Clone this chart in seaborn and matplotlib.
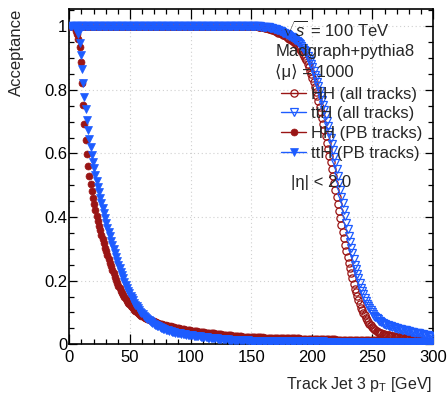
import numpy as np
import pandas as pd
import matplotlib
matplotlib.use("Agg")
import matplotlib.pyplot as plt
import seaborn as sns
from matplotlib.lines import Line2D
from matplotlib.ticker import MultipleLocator, FixedLocator

# ---------------- data (acceptance vs. track-jet-3 pT cut, 1 GeV bins) ----------------
pt_cut = np.arange(0.5, 300.0, 1.0)

hh_all = [
    1, 1, 1, 1, 1, 1, 1, 1, 1, 1,
    1, 1, 1, 1, 1, 1, 1, 1, 1, 1,
    1, 1, 1, 1, 1, 1, 1, 1, 1, 1,
    1, 1, 1, 1, 1, 1, 1, 1, 1, 1,
    1, 1, 1, 1, 1, 1, 1, 1, 1, 1,
    1, 1, 1, 1, 1, 1, 1, 1, 1, 1,
    1, 1, 1, 1, 1, 1, 1, 1, 1, 1,
    1, 1, 1, 1, 1, 1, 1, 1, 1, 1,
    1, 1, 1, 1, 1, 1, 1, 1, 1, 1,
    1, 1, 1, 1, 1, 1, 1, 1, 1, 1,
    1, 1, 1, 1, 1, 1, 1, 1, 1, 1,
    1, 1, 1, 1, 1, 1, 1, 1, 1, 1,
    1, 1, 1, 1, 1, 1, 1, 1, 1, 1,
    1, 1, 1, 1, 1, 1, 1, 1, 1, 1,
    1, 1, 1, 1, 1, 1, 1, 1, 1, 1,
    1.000, 1.000, 1.000, 0.999, 0.999, 0.999, 0.998, 0.998, 0.997, 0.997,
    0.996, 0.995, 0.994, 0.993, 0.992, 0.991, 0.990, 0.988, 0.987, 0.985,
    0.984, 0.982, 0.980, 0.979, 0.977, 0.975, 0.973, 0.971, 0.968, 0.966,
    0.964, 0.961, 0.958, 0.956, 0.953, 0.950, 0.946, 0.941, 0.937, 0.932,
    0.928, 0.921, 0.914, 0.907, 0.900, 0.893, 0.882, 0.871, 0.860, 0.849,
    0.838, 0.823, 0.809, 0.794, 0.780, 0.765, 0.747, 0.729, 0.711, 0.693,
    0.675, 0.654, 0.634, 0.613, 0.593, 0.572, 0.550, 0.528, 0.506, 0.484,
    0.462, 0.440, 0.418, 0.396, 0.374, 0.352, 0.333, 0.313, 0.294, 0.274,
    0.255, 0.239, 0.223, 0.207, 0.191, 0.175, 0.163, 0.151, 0.139, 0.127,
    0.115, 0.107, 0.099, 0.091, 0.083, 0.075, 0.070, 0.065, 0.060, 0.055,
    0.050, 0.047, 0.045, 0.042, 0.040, 0.037, 0.036, 0.034, 0.033, 0.031,
    0.030, 0.029, 0.028, 0.028, 0.027, 0.026, 0.025, 0.025, 0.024, 0.024,
    0.023, 0.023, 0.022, 0.022, 0.021, 0.021, 0.020, 0.020, 0.019, 0.019,
    0.018, 0.017, 0.017, 0.016, 0.016, 0.015, 0.014, 0.014, 0.013, 0.013,
    0.012, 0.011, 0.010, 0.009, 0.008, 0.007, 0.006, 0.005, 0.004, 0.003,
]

tth_all = [
    1, 1, 1, 1, 1, 1, 1, 1, 1, 1,
    1, 1, 1, 1, 1, 1, 1, 1, 1, 1,
    1, 1, 1, 1, 1, 1, 1, 1, 1, 1,
    1, 1, 1, 1, 1, 1, 1, 1, 1, 1,
    1, 1, 1, 1, 1, 1, 1, 1, 1, 1,
    1, 1, 1, 1, 1, 1, 1, 1, 1, 1,
    1, 1, 1, 1, 1, 1, 1, 1, 1, 1,
    1, 1, 1, 1, 1, 1, 1, 1, 1, 1,
    1, 1, 1, 1, 1, 1, 1, 1, 1, 1,
    1, 1, 1, 1, 1, 1, 1, 1, 1, 1,
    1, 1, 1, 1, 1, 1, 1, 1, 1, 1,
    1, 1, 1, 1, 1, 1, 1, 1, 1, 1,
    1, 1, 1, 1, 1, 1, 1, 1, 1, 1,
    1, 1, 1, 1, 1, 1, 1, 1, 1, 1,
    1, 1, 1, 1, 1, 1, 1, 1, 1, 1,
    1.000, 1.000, 1.000, 0.999, 0.999, 0.999, 0.999, 0.999, 0.998, 0.998,
    0.998, 0.997, 0.997, 0.996, 0.996, 0.995, 0.994, 0.993, 0.992, 0.991,
    0.990, 0.988, 0.987, 0.985, 0.984, 0.982, 0.980, 0.978, 0.976, 0.974,
    0.972, 0.970, 0.967, 0.965, 0.962, 0.960, 0.957, 0.953, 0.950, 0.946,
    0.943, 0.937, 0.932, 0.926, 0.921, 0.915, 0.906, 0.898, 0.889, 0.881,
    0.872, 0.860, 0.848, 0.836, 0.824, 0.812, 0.797, 0.782, 0.768, 0.753,
    0.738, 0.720, 0.703, 0.685, 0.668, 0.650, 0.630, 0.610, 0.590, 0.570,
    0.550, 0.529, 0.507, 0.486, 0.464, 0.443, 0.422, 0.402, 0.381, 0.361,
    0.340, 0.322, 0.304, 0.286, 0.268, 0.250, 0.236, 0.221, 0.207, 0.192,
    0.178, 0.168, 0.158, 0.147, 0.137, 0.127, 0.120, 0.114, 0.107, 0.101,
    0.094, 0.090, 0.086, 0.082, 0.078, 0.074, 0.072, 0.070, 0.067, 0.065,
    0.063, 0.062, 0.060, 0.059, 0.057, 0.056, 0.055, 0.054, 0.052, 0.051,
    0.050, 0.049, 0.048, 0.047, 0.046, 0.046, 0.045, 0.044, 0.043, 0.042,
    0.041, 0.040, 0.039, 0.038, 0.037, 0.037, 0.036, 0.035, 0.034, 0.033,
    0.032, 0.031, 0.030, 0.029, 0.028, 0.028, 0.027, 0.026, 0.025, 0.024,
]

hh_pb = [
    1.000, 1.000, 0.999, 0.997, 0.993, 0.986, 0.975, 0.960, 0.936, 0.887,
    0.821, 0.752, 0.694, 0.641, 0.599, 0.562, 0.530, 0.504, 0.481, 0.460,
    0.440, 0.421, 0.404, 0.388, 0.373, 0.358, 0.344, 0.330, 0.317, 0.304,
    0.292, 0.280, 0.268, 0.256, 0.245, 0.234, 0.223, 0.212, 0.202, 0.193,
    0.184, 0.176, 0.168, 0.161, 0.154, 0.148, 0.142, 0.136, 0.131, 0.126,
    0.121, 0.117, 0.113, 0.109, 0.105, 0.102, 0.099, 0.096, 0.093, 0.090,
    0.088, 0.086, 0.084, 0.082, 0.080, 0.078, 0.076, 0.075, 0.073, 0.072,
    0.070, 0.069, 0.067, 0.066, 0.065, 0.064, 0.063, 0.062, 0.061, 0.060,
    0.059, 0.058, 0.057, 0.056, 0.055, 0.054, 0.053, 0.052, 0.051, 0.051,
    0.050, 0.049, 0.048, 0.048, 0.047, 0.046, 0.046, 0.045, 0.044, 0.044,
    0.043, 0.043, 0.042, 0.042, 0.041, 0.041, 0.040, 0.040, 0.039, 0.039,
    0.038, 0.038, 0.037, 0.037, 0.036, 0.036, 0.035, 0.035, 0.034, 0.034,
    0.033, 0.033, 0.032, 0.032, 0.031, 0.031, 0.030, 0.030, 0.030, 0.029,
    0.029, 0.028, 0.028, 0.028, 0.027, 0.027, 0.026, 0.026, 0.026, 0.025,
    0.025, 0.025, 0.024, 0.024, 0.024, 0.023, 0.023, 0.023, 0.022, 0.022,
    0.022, 0.022, 0.022, 0.022, 0.022, 0.022, 0.022, 0.022, 0.022, 0.022,
    0.021, 0.021, 0.021, 0.021, 0.021, 0.021, 0.021, 0.021, 0.021, 0.021,
    0.020, 0.020, 0.020, 0.020, 0.020, 0.020, 0.020, 0.020, 0.020, 0.020,
    0.019, 0.019, 0.019, 0.019, 0.019, 0.019, 0.019, 0.019, 0.019, 0.019,
    0.018, 0.018, 0.018, 0.018, 0.018, 0.018, 0.018, 0.018, 0.018, 0.018,
    0.017, 0.017, 0.017, 0.017, 0.017, 0.017, 0.017, 0.017, 0.017, 0.017,
    0.016, 0.016, 0.016, 0.016, 0.016, 0.016, 0.016, 0.016, 0.016, 0.016,
    0.015, 0.015, 0.015, 0.015, 0.015, 0.015, 0.015, 0.015, 0.015, 0.015,
    0.014, 0.014, 0.014, 0.014, 0.014, 0.014, 0.014, 0.014, 0.014, 0.014,
    0.013, 0.013, 0.013, 0.013, 0.013, 0.013, 0.013, 0.013, 0.013, 0.013,
    0.012, 0.012, 0.012, 0.012, 0.012, 0.012, 0.012, 0.012, 0.012, 0.012,
    0.011, 0.011, 0.011, 0.011, 0.011, 0.011, 0.011, 0.011, 0.011, 0.011,
    0.010, 0.010, 0.010, 0.010, 0.010, 0.010, 0.010, 0.010, 0.010, 0.010,
    0.009, 0.009, 0.009, 0.009, 0.009, 0.009, 0.009, 0.009, 0.009, 0.009,
    0.008, 0.008, 0.008, 0.008, 0.008, 0.008, 0.008, 0.008, 0.008, 0.008,
]

tth_pb = [
    1.000, 1.000, 1.000, 0.999, 0.998, 0.995, 0.989, 0.975, 0.948, 0.910,
    0.866, 0.820, 0.778, 0.740, 0.706, 0.675, 0.646, 0.620, 0.596, 0.574,
    0.553, 0.533, 0.514, 0.496, 0.478, 0.461, 0.444, 0.428, 0.412, 0.397,
    0.382, 0.367, 0.353, 0.339, 0.325, 0.312, 0.299, 0.286, 0.274, 0.262,
    0.250, 0.239, 0.228, 0.217, 0.207, 0.197, 0.187, 0.178, 0.169, 0.161,
    0.153, 0.145, 0.138, 0.131, 0.125, 0.119, 0.113, 0.108, 0.103, 0.098,
    0.094, 0.090, 0.086, 0.082, 0.079, 0.076, 0.073, 0.070, 0.067, 0.065,
    0.062, 0.060, 0.058, 0.056, 0.054, 0.052, 0.051, 0.049, 0.048, 0.046,
    0.045, 0.044, 0.043, 0.041, 0.040, 0.039, 0.038, 0.037, 0.036, 0.035,
    0.035, 0.034, 0.033, 0.032, 0.032, 0.031, 0.030, 0.030, 0.029, 0.029,
    0.028, 0.028, 0.027, 0.027, 0.026, 0.026, 0.025, 0.025, 0.024, 0.024,
    0.023, 0.023, 0.022, 0.022, 0.021, 0.021, 0.021, 0.020, 0.020, 0.019,
    0.019, 0.019, 0.018, 0.018, 0.018, 0.017, 0.017, 0.017, 0.016, 0.016,
    0.016, 0.015, 0.015, 0.015, 0.015, 0.014, 0.014, 0.014, 0.014, 0.013,
    0.013, 0.013, 0.013, 0.012, 0.012, 0.012, 0.012, 0.012, 0.011, 0.011,
    0.011, 0.011, 0.011, 0.011, 0.011, 0.011, 0.011, 0.011, 0.011, 0.011,
    0.010, 0.010, 0.010, 0.010, 0.010, 0.010, 0.010, 0.010, 0.010, 0.010,
    0.010, 0.010, 0.010, 0.010, 0.010, 0.010, 0.010, 0.010, 0.010, 0.010,
    0.009, 0.009, 0.009, 0.009, 0.009, 0.009, 0.009, 0.009, 0.009, 0.009,
    0.009, 0.009, 0.009, 0.009, 0.009, 0.009, 0.009, 0.009, 0.009, 0.009,
    0.009, 0.009, 0.009, 0.009, 0.009, 0.009, 0.009, 0.009, 0.009, 0.009,
    0.008, 0.008, 0.008, 0.008, 0.008, 0.008, 0.008, 0.008, 0.008, 0.008,
    0.008, 0.008, 0.008, 0.008, 0.008, 0.008, 0.008, 0.008, 0.008, 0.008,
    0.008, 0.008, 0.008, 0.008, 0.008, 0.008, 0.008, 0.008, 0.008, 0.008,
    0.008, 0.008, 0.008, 0.008, 0.008, 0.008, 0.008, 0.008, 0.008, 0.008,
    0.008, 0.008, 0.008, 0.008, 0.008, 0.008, 0.008, 0.008, 0.008, 0.008,
    0.007, 0.007, 0.007, 0.007, 0.007, 0.007, 0.007, 0.007, 0.007, 0.007,
    0.007, 0.007, 0.007, 0.007, 0.007, 0.007, 0.007, 0.007, 0.007, 0.007,
    0.007, 0.007, 0.007, 0.007, 0.007, 0.007, 0.007, 0.007, 0.007, 0.007,
    0.007, 0.007, 0.007, 0.007, 0.007, 0.007, 0.007, 0.007, 0.007, 0.007,
]

series_labels = ["HH (all tracks)", "ttH (all tracks)", "HH (PB tracks)", "ttH (PB tracks)"]
x_ticks = [0, 50, 100, 150, 200, 250, 300]
y_ticks = [0, 0.2, 0.4, 0.6, 0.8, 1.0]
y_tick_labels = ["0", "0.2", "0.4", "0.6", "0.8", "1"]
info_lines = [r"$\sqrt{s}$ = 100 TeV", "Madgraph+pythia8", "\u27e8\u03bc\u27e9 = 1000"]
eta_text = "|\u03b7| < 2.0"

# ---------------- style ----------------
sns.set_style("ticks")
plt.rcParams["font.family"] = ["Liberation Sans", "DejaVu Sans"]
plt.rcParams["mathtext.fontset"] = "custom"
plt.rcParams["mathtext.rm"] = "Liberation Sans"
plt.rcParams["mathtext.it"] = "Liberation Sans:italic"

RED = "#9a1515"
BLUE = "#1d5cff"

W, H = 447, 398
fig = plt.figure(figsize=(W / 100, H / 100), dpi=100)
fig.patch.set_facecolor("white")
ax = fig.add_axes([69.3 / W, 1 - 344.3 / H, (433 - 69.3) / W, (344.3 - 9.3) / H])

df = pd.DataFrame({
    "pt": np.concatenate([pt_cut] * 4),
    "acc": np.concatenate([hh_all, tth_all, hh_pb, tth_pb]),
    "sample": np.repeat(series_labels, len(pt_cut)),
})

styles = {
    "HH (all tracks)": dict(color=RED, marker="o", markersize=5.2, markerfacecolor="none",
                            markeredgecolor=RED, markeredgewidth=0.9),
    "ttH (all tracks)": dict(color=BLUE, marker="v", markersize=5.8, markerfacecolor="none",
                             markeredgecolor=BLUE, markeredgewidth=0.9),
    "HH (PB tracks)": dict(color=RED, marker="o", markersize=5.0, markerfacecolor=RED,
                           markeredgecolor=RED, markeredgewidth=0.5),
    "ttH (PB tracks)": dict(color=BLUE, marker="v", markersize=5.6, markerfacecolor=BLUE,
                            markeredgecolor=BLUE, markeredgewidth=0.5),
}

for lab in series_labels:
    sub = df[df["sample"] == lab]
    sns.lineplot(data=sub, x="pt", y="acc", ax=ax, linestyle="none",
                 estimator=None, sort=False, legend=False, zorder=3, **styles[lab])

ax.set_xlim(0, 300)
ax.set_ylim(0, 1.053)
ax.xaxis.set_major_locator(FixedLocator(x_ticks))
ax.xaxis.set_minor_locator(MultipleLocator(10))
ax.yaxis.set_major_locator(FixedLocator(y_ticks))
ax.yaxis.set_minor_locator(MultipleLocator(0.05))
ax.set_xticklabels([str(t) for t in x_ticks])
ax.set_yticklabels(y_tick_labels)
ax.grid(True, which="major", color="#d0d0d0", linestyle=(0, (1, 2.5)), linewidth=0.8, zorder=0)
ax.set_axisbelow(True)

ax.tick_params(axis="both", which="both", direction="in", top=True, right=True,
               colors="black", labelsize=12)
ax.tick_params(axis="x", which="major", length=7.2, width=0.9, pad=4)
ax.tick_params(axis="x", which="minor", length=3.6, width=0.9)
ax.tick_params(axis="y", which="major", length=6.0, width=0.9, pad=1.5)
ax.tick_params(axis="y", which="minor", length=3.6, width=0.9)
for sp in ax.spines.values():
    sp.set_linewidth(1.2)
    sp.set_color("black")
ax.set_xlabel("")
ax.set_ylabel("")

def fx(px):
    return px / W

def fy(py):
    return 1 - py / H

fig.text(fx(432), fy(385), r"Track Jet 3 p$_{\mathrm{T}}$ [GeV]", ha="right", va="center", fontsize=11.5)
fig.text(fx(16.5), fy(9), "Acceptance", rotation=90, ha="center", va="top", fontsize=12)

for txt, (px, py) in zip(info_lines, [(282, 30), (276, 51.5), (275, 72)]):
    fig.text(fx(px), fy(py), txt, ha="left", va="center", fontsize=12)
fig.text(fx(291), fy(182), eta_text, ha="left", va="center", fontsize=12)

handles = [
    Line2D([], [], linewidth=1.0, **styles[lab]) for lab in series_labels
]
leg = ax.legend(handles, series_labels, loc="upper left", frameon=False,
                bbox_to_anchor=(fx(281), fy(86.5)), bbox_transform=fig.transFigure,
                fontsize=12, handlelength=1.5, handletextpad=0.3, labelspacing=0.29,
                borderpad=0, borderaxespad=0, numpoints=1)

fig.savefig("out.png", dpi=100, facecolor="white")
